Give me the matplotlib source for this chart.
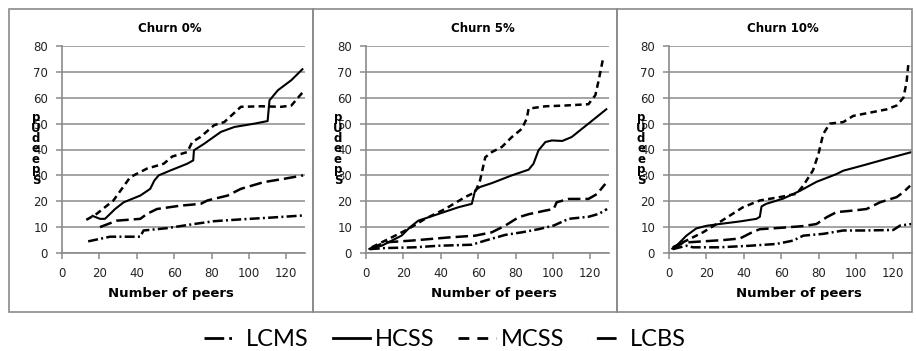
import numpy as np
import matplotlib.pyplot as plt
from matplotlib.lines import Line2D
from matplotlib.patches import Rectangle

W, H = 916, 351

titles = ["Churn 0%", "Churn 5%", "Churn 10%"]
series_names = ["LCMS", "HCSS", "MCSS", "LCBS"]
x_ticks = [0, 20, 40, 60, 80, 100, 120]
y_ticks = [0, 10, 20, 30, 40, 50, 60, 70, 80]

# --- Churn 0% ---
lcms_0_x = [14, 25.7, 41.9, 43.6, 56.2, 70.6, 81.4, 95.7, 110, 129]
lcms_0_y = [4.5, 6.3, 6.3, 8.7, 9.6, 11.2, 12.3, 13.0, 13.6, 14.5]
hcss_0_x = [15.8, 20.3, 23, 28.4, 33, 41.9, 47.2, 49.4, 51.7, 58, 67, 70.2, 70.6, 76, 85,
            92.2, 103, 110, 111, 115.5, 122.7, 129]
hcss_0_y = [14.5, 13.2, 13.2, 17, 19.6, 22.2, 24.8, 28, 30, 31.9, 34.5, 35.8, 39.7, 42.2, 46.8,
            48.7, 50, 51, 59, 62.9, 66.8, 71.3]
mcss_0_x = [13, 18.5, 27.5, 36.5, 45.4, 54.4, 59, 67, 69.7, 74, 81.4, 86.8, 95.7, 106.5,
            117.3, 122.7, 129]
mcss_0_y = [12.8, 15.1, 20.3, 29.3, 32.6, 34.5, 37.3, 39, 42.9, 44.8, 49.4, 50.6, 56.5, 56.7,
            56.5, 57, 62.3]
lcbs_0_x = [20.3, 29.3, 41.9, 45.4, 50.8, 63.4, 74.2, 77.8, 88.6, 95.7, 108, 119, 129]
lcbs_0_y = [10, 12.5, 13.2, 15.1, 17, 18.3, 19, 20.3, 22.2, 24.8, 27.4, 28.7, 30]

# --- Churn 5% ---
lcms_5_x = [2, 10, 26, 38.8, 56.6, 63.8, 74.5, 83.4, 92.3, 100.4, 108.4, 119, 124.5, 129]
lcms_5_y = [1.5, 1.9, 2.2, 2.8, 3.2, 4.8, 7.0, 8.0, 9.2, 10.6, 13.2, 14, 15.1, 17]
hcss_5_x = [1.3, 8.4, 19, 23.6, 28, 38.8, 49.5, 56.6, 58.4, 61, 67.3, 78, 87, 89.6, 92.3,
            96, 99.5, 105, 110, 119, 129]
hcss_5_y = [1.5, 2.8, 6.7, 10, 12.5, 15.1, 17.7, 19, 24.2, 25.5, 27, 30, 32.2, 34.5, 39.7,
            42.9, 43.5, 43.3, 44.8, 50, 55.8]
mcss_5_x = [3, 12, 22.7, 31.6, 42.3, 53, 58.4, 61, 63.8, 67.3, 72.7, 78, 83.4, 86, 87, 96,
            106.6, 119, 122.7, 124.5, 127]
mcss_5_y = [2.2, 5.4, 9.3, 13.2, 17, 21.6, 23.5, 28, 37, 39, 41, 44.8, 48, 52, 55.8, 56.7,
            57, 57.5, 61, 66.8, 75.8]
lcbs_5_x = [2, 10, 24.5, 44, 58.4, 67.3, 74.5, 81.6, 87, 96, 100.4, 102, 108.4, 119, 123.6, 128]
lcbs_5_y = [1.5, 4.1, 4.8, 6, 6.7, 8, 10.6, 13.8, 15, 16.4, 17, 19.6, 20.9, 20.9, 22.8, 26.7]

# --- Churn 10% ---
lcms_10_x = [2, 9.3, 12.9, 27, 43.2, 57.5, 66.4, 71.8, 82.5, 93.2, 103.9, 120, 123.6, 129.8]
lcms_10_y = [1.5, 2.8, 2.2, 2.2, 2.8, 3.5, 4.8, 6.7, 7.4, 8.7, 8.7, 8.9, 10.6, 11.2]
hcss_10_x = [1.3, 4, 9.3, 14.6, 20, 27, 37.9, 46.8, 48.6, 49.5, 52, 61, 70, 78.9, 89.6,
             93.2, 104, 116.4, 129.8]
hcss_10_y = [1.5, 2.8, 6.7, 9.5, 10.5, 11.2, 12.2, 13.2, 14, 18, 19, 21, 24, 27.5, 30.5,
             31.8, 33.9, 36.4, 39]
mcss_10_x = [2, 9.3, 18.2, 27, 39.6, 48.6, 59.3, 68.2, 71.8, 77, 80, 82.5, 86, 93.2, 98.6,
             109.3, 116.4, 121.8, 125.4, 127.1, 128]
mcss_10_y = [2.2, 4.8, 8, 11.9, 17.7, 20.3, 21.6, 22.9, 26, 31.9, 38.4, 46, 50, 50.6, 53,
             54.5, 55.5, 57, 60, 66, 72.6]
lcbs_10_x = [2, 7.5, 18.2, 29, 37.9, 45, 48.6, 61, 71.8, 78.9, 84.3, 89.6, 98.6, 105.7,
             112.9, 121.8, 125.4, 129]
lcbs_10_y = [1.5, 4.0, 4.5, 5.0, 5.6, 8.2, 9.2, 9.8, 10.4, 11.2, 13.8, 15.8, 16.4, 17, 19.6,
             21.6, 23.5, 26]

panels = [
    [(lcms_0_x, lcms_0_y), (hcss_0_x, hcss_0_y), (mcss_0_x, mcss_0_y), (lcbs_0_x, lcbs_0_y)],
    [(lcms_5_x, lcms_5_y), (hcss_5_x, hcss_5_y), (mcss_5_x, mcss_5_y), (lcbs_5_x, lcbs_5_y)],
    [(lcms_10_x, lcms_10_y), (hcss_10_x, hcss_10_y), (mcss_10_x, mcss_10_y), (lcbs_10_x, lcbs_10_y)],
]

# line look per series (plot) and per legend handle
styles = [
    dict(lw=1.8, ls=(0, (4, 1.3, 0.8, 1.3))),
    dict(lw=1.5, ls="-"),
    dict(lw=1.8, ls=(0, (2.6, 1.7))),
    dict(lw=1.8, ls=(0, (5, 2))),
]
legend_ls = [(0, (7.1, 1.8, 1.0, 8)), "-", (0, (3.9, 2.9)), (0, (0.01, 3.0, 7.1, 20))]

GRAY = "#8a8a8a"


def fx(px):
    return px / W


def fy(py):
    return 1 - py / H


fig = plt.figure(figsize=(W / 100, H / 100), dpi=100)

# panel frames
frame_edges = [9, 313, 617, 912]
for i in range(3):
    fig.patches.append(Rectangle((fx(frame_edges[i]), fy(312)),
                                 fx(frame_edges[i + 1]) - fx(frame_edges[i]),
                                 fy(9) - fy(312), transform=fig.transFigure,
                                 fill=False, edgecolor=GRAY, lw=1.2, zorder=0))

axis_left = [62, 366, 669]
title_cx = [170, 483, 783]
xlabel_cx = [171, 494, 799]
ylabel_cx = [36, 338, 641]

for i, data in enumerate(panels):
    ax = fig.add_axes([fx(axis_left[i]), fy(253), 243 / W, (253 - 46) / H])
    for (xs, ys), st in zip(data, styles):
        ax.plot(xs, ys, color="black", linewidth=st["lw"], linestyle=st["ls"],
                solid_capstyle="butt", dash_capstyle="butt")
    ax.set_xlim(0, 130)
    ax.set_ylim(0, 80)
    ax.set_xticks(x_ticks)
    ax.set_yticks(y_ticks)
    ax.grid(axis="y", color=GRAY, lw=1.1)
    ax.set_axisbelow(True)
    for s in ["top", "right"]:
        ax.spines[s].set_visible(False)
    for s in ["left", "bottom"]:
        ax.spines[s].set_color(GRAY)
        ax.spines[s].set_linewidth(1.2)
    ax.tick_params(direction="out", length=4, width=1.1, color=GRAY,
                   labelsize=8.5, pad=6, labelcolor="#222222")
    fig.text(fx(title_cx[i]), fy(29), titles[i], ha="center", va="center",
             fontsize=8.5, fontweight="bold")
    fig.text(fx(xlabel_cx[i]), fy(293), "Number of peers", ha="center", va="center",
             fontsize=9.5, fontweight="bold")
    # the y label is drawn as stacked letters, as in the source chart
    fig.text(fx(ylabel_cx[i]), fy(149), "\n".join("SpeedUp"[::-1]), ha="center",
             va="center", fontsize=8.5, fontweight="bold", linespacing=0.75)

handles = [Line2D([], [], color="black", lw=2, linestyle=ls, dash_capstyle="butt")
           for ls in legend_ls]
fig.legend(handles, series_names, loc="center", bbox_to_anchor=(fx(445), fy(340)),
           ncol=4, frameon=False, handlelength=1.6, handletextpad=0.2,
           columnspacing=1.0, prop={"family": "Lato", "size": 17})

fig.savefig("out.png", dpi=100)
